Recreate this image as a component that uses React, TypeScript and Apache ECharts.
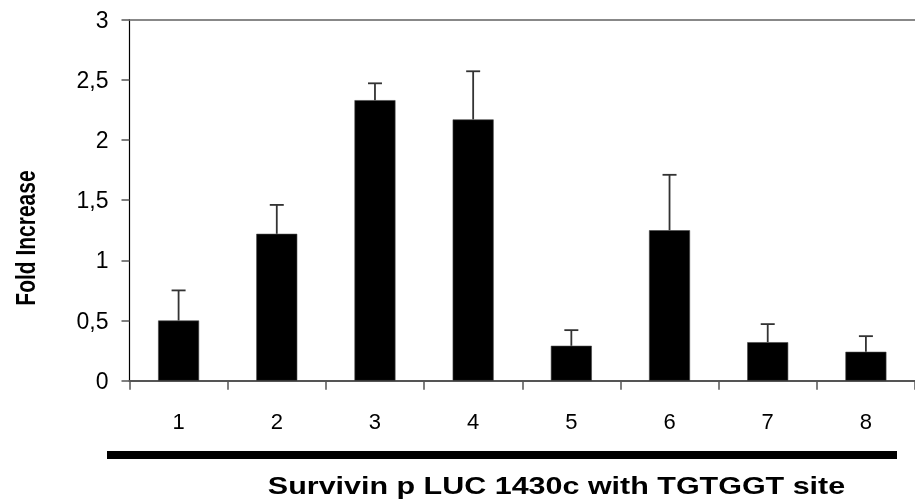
import React, { useEffect, useRef } from 'react';
import * as echarts from 'echarts';

const categories = ['1', '2', '3', '4', '5', '6', '7', '8'];
const foldIncrease = [0.5, 1.22, 2.33, 2.17, 0.29, 1.25, 0.32, 0.24];
const errorUpper = [0.25, 0.24, 0.14, 0.4, 0.13, 0.46, 0.15, 0.13];
const yMin = 0;
const yMax = 3;
const yInterval = 0.5;
const xTitle = 'Survivin p LUC 1430c with TGTGGT site';
const yTitle = 'Fold Increase';

export default function App() {
  const ref = useRef<HTMLDivElement>(null);
  useEffect(() => {
    const chart = echarts.init(ref.current as HTMLDivElement, null, { renderer: 'svg' });
    const errData = categories.map((c, i) => [i, foldIncrease[i], foldIncrease[i] + errorUpper[i]]);
    chart.setOption({
      animation: false,
      grid: { left: 129.5, top: 19.5, right: -7.5, bottom: 122.3, containLabel: false },
      xAxis: {
        type: 'category',
        data: categories,
        axisLine: { show: true, lineStyle: { color: '#555', width: 2 } },
        axisTick: { show: true, length: 9, lineStyle: { color: '#555', width: 1.5 } },
        axisLabel: { fontFamily: 'Liberation Sans', fontSize: 22, color: '#000', margin: 30 },
      },
      yAxis: {
        type: 'value',
        min: yMin,
        max: yMax,
        interval: yInterval,
        axisLine: { show: true, lineStyle: { color: '#000', width: 1.2 } },
        axisTick: { show: true, length: 8, lineStyle: { color: '#555', width: 1.5 } },
        splitLine: { show: false },
        axisLabel: {
          formatter: (v: number) => String(v).replace('.', ','),
          fontFamily: 'Liberation Sans',
          fontSize: 23,
          color: '#000',
          margin: 21,
        },
      },
      series: [
        {
          type: 'bar',
          data: foldIncrease,
          barWidth: 41,
          itemStyle: { color: '#000', borderColor: '#444', borderWidth: 0.6 },
          markLine: {
            silent: true,
            symbol: 'none',
            label: { show: false },
            lineStyle: { color: '#888', width: 2, type: 'solid' },
            data: [{ yAxis: yMax }],
          },
        },
        {
          type: 'custom',
          data: errData,
          encode: { x: 0, y: [1, 2] },
          z: 3,
          renderItem: (params: any, api: any) => {
            const idx = api.value(0);
            const base = api.coord([idx, api.value(1)]);
            const top = api.coord([idx, api.value(2)]);
            const st = { stroke: '#333', lineWidth: 1.8 };
            return {
              type: 'group',
              children: [
                { type: 'line', shape: { x1: base[0], y1: base[1], x2: top[0], y2: top[1] }, style: st },
                { type: 'line', shape: { x1: top[0] - 7, y1: top[1], x2: top[0] + 7, y2: top[1] }, style: st },
              ],
            };
          },
        },
      ],
      graphic: [
        { type: 'rect', shape: { x: 107, y: 451, width: 790, height: 8 }, style: { fill: '#000' } },
        {
          type: 'text',
          x: 556.5,
          y: 486,
          scaleX: 1.27,
          style: { text: xTitle, font: 'bold 24px "Liberation Sans"', align: 'center', verticalAlign: 'middle', fill: '#000' },
        },
        {
          type: 'text',
          x: 25,
          y: 238,
          rotation: Math.PI / 2,
          scaleY: 1.33,
          style: { text: yTitle, font: 'bold 21px "Liberation Sans"', align: 'center', verticalAlign: 'middle', fill: '#000' },
        },
      ],
    });
    return () => chart.dispose();
  }, []);
  return <div ref={ref} style={{ position: 'fixed', left: 0, top: 0, width: 915, height: 503 }} />;
}
